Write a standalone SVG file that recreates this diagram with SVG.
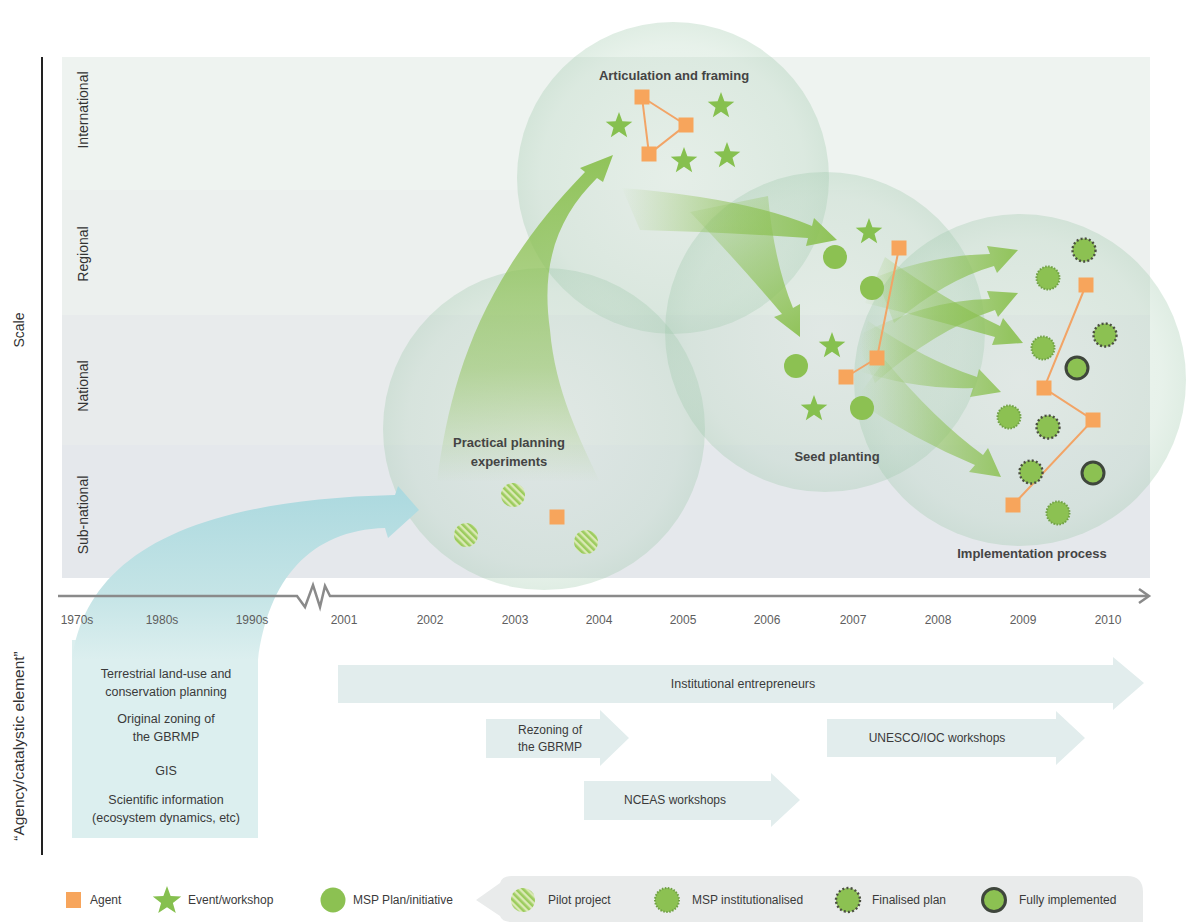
<svg xmlns="http://www.w3.org/2000/svg" width="1192" height="922" viewBox="0 0 1192 922">
<style>
.t{font-family:"Liberation Sans",Arial,sans-serif;fill:#3a3a3a}
.yr{font-family:"Liberation Sans",Arial,sans-serif;font-size:12px;fill:#5e5e5e;text-anchor:middle}
.row{font-family:"Liberation Sans",Arial,sans-serif;font-size:14px;fill:#333;text-anchor:middle}
.hd{font-family:"Liberation Sans",Arial,sans-serif;font-size:13px;font-weight:bold;fill:#444;text-anchor:middle}
.bx{font-family:"Liberation Sans",Arial,sans-serif;font-size:12.5px;fill:#3a3a3a;text-anchor:middle}
.lg{font-family:"Liberation Sans",Arial,sans-serif;font-size:12px;fill:#3a3a3a}
.stage{fill:url(#gStage)}
.sq{fill:#f7a55c}
.st{fill:#86c04f}
.msp{fill:#8cc152}
.pilot{fill:url(#hatch)}
.inst{fill:#8cc152;stroke:#6f9f45;stroke-width:2;stroke-dasharray:1.5 1.5}
.fin{fill:#8cc152;stroke:#4b4f42;stroke-width:2.4;stroke-dasharray:2 2.2}
.full{fill:#8cc152;stroke:#3f463c;stroke-width:3}
.ol{fill:none;stroke:#f2a466;stroke-width:2}
.bar{fill:#e2eded}
</style>
<defs>
<radialGradient id="gStage" cx="0.5" cy="0.5" r="0.5">
<stop offset="0" stop-color="#c2dcc8" stop-opacity="0.2"/>
<stop offset="0.85" stop-color="#aacfb5" stop-opacity="0.28"/>
<stop offset="1" stop-color="#9cc7a9" stop-opacity="0.32"/>
</radialGradient>
<linearGradient id="gBig" gradientUnits="userSpaceOnUse" x1="0" y1="482" x2="0" y2="155">
<stop offset="0" stop-color="#8cc152" stop-opacity="0"/>
<stop offset="0.35" stop-color="#8cc152" stop-opacity="0.5"/>
<stop offset="1" stop-color="#8cc152" stop-opacity="0.95"/>
</linearGradient>
<linearGradient id="gA1" gradientUnits="userSpaceOnUse" x1="620" y1="0" x2="835" y2="0">
<stop offset="0" stop-color="#8cc152" stop-opacity="0"/>
<stop offset="0.55" stop-color="#8cc152" stop-opacity="0.6"/>
<stop offset="1" stop-color="#8cc152" stop-opacity="0.95"/>
</linearGradient>
<linearGradient id="gA2" gradientUnits="userSpaceOnUse" x1="700" y1="195" x2="800" y2="337">
<stop offset="0" stop-color="#8cc152" stop-opacity="0.1"/>
<stop offset="0.5" stop-color="#8cc152" stop-opacity="0.55"/>
<stop offset="1" stop-color="#8cc152" stop-opacity="0.95"/>
</linearGradient>
<linearGradient id="gB" gradientUnits="userSpaceOnUse" x1="860" y1="0" x2="1010" y2="0">
<stop offset="0" stop-color="#8cc152" stop-opacity="0"/>
<stop offset="0.5" stop-color="#8cc152" stop-opacity="0.5"/>
<stop offset="1" stop-color="#8cc152" stop-opacity="0.9"/>
</linearGradient>
<linearGradient id="gBlue" gradientUnits="userSpaceOnUse" x1="0" y1="490" x2="0" y2="660">
<stop offset="0" stop-color="#acd9df"/>
<stop offset="0.6" stop-color="#c4e4e6"/>
<stop offset="1" stop-color="#dcefef"/>
</linearGradient>
<pattern id="hatch" patternUnits="userSpaceOnUse" width="5" height="5" patternTransform="rotate(-45)">
<rect width="5" height="5" fill="#dbe9b6"/>
<rect width="2.6" height="5" fill="#9ccc5e"/>
</pattern>
<path id="star" d="M0,-14 L3.4,-4.7 L13.3,-4.3 L5.5,1.8 L8.2,11.3 L0,5.8 L-8.2,11.3 L-5.5,1.8 L-13.3,-4.3 L-3.4,-4.7 Z"/>
</defs>

<rect width="1192" height="922" fill="#ffffff"/>

<g id="background">
<rect x="62" y="57" width="1088" height="133" fill="#eef3f0"/>
<rect x="62" y="190" width="1088" height="125" fill="#ecf0ee"/>
<rect x="62" y="315" width="1088" height="130" fill="#e8ebec"/>
<rect x="62" y="445" width="1088" height="133" fill="#e5e8ec"/>
<text class="row" transform="translate(88,110) rotate(-90)">International</text>
<text class="row" transform="translate(88,254) rotate(-90)">Regional</text>
<text class="row" transform="translate(88,386) rotate(-90)">National</text>
<text class="row" transform="translate(88,515) rotate(-90)">Sub-national</text>
</g>

<g id="axes">
<line x1="42" y1="57" x2="42" y2="855" stroke="#222" stroke-width="2"/>
<text class="row" transform="translate(24,330) rotate(-90)">Scale</text>
<text class="row" style="font-size:15.5px" transform="translate(24,746) rotate(-90)">“Agency/catalystic element”</text>
</g>

<g id="stage-articulation">
<circle class="stage" cx="673" cy="178" r="156"/>
</g>
<g id="stage-practical">
<circle class="stage" cx="544" cy="429" r="161"/>
</g>
<g id="stage-seed">
<circle class="stage" cx="825" cy="332" r="160"/>
</g>
<g id="stage-implementation">
<circle class="stage" cx="1020" cy="380" r="166"/>
</g>

<g id="catalysts">
<rect x="72" y="640" width="186" height="198" fill="#dcefef"/>
<path d="M72,660 C85,560 180,500 395,495 L398,486 L419,510 L388,538 L385,528 C310,530 268,580 258,660 Z" fill="url(#gBlue)"/>
<text class="bx" x="166" y="678">Terrestrial land-use and</text>
<text class="bx" x="166" y="696">conservation planning</text>
<text class="bx" x="166" y="723">Original zoning of</text>
<text class="bx" x="166" y="741">the GBRMP</text>
<text class="bx" x="166" y="775">GIS</text>
<text class="bx" x="166" y="804">Scientific information</text>
<text class="bx" x="166" y="822">(ecosystem dynamics, etc)</text>
</g>

<g id="timeline">
<path d="M58,596 L297,596 L305,607 L313,585 L320,607 L325,586 L330,596 L1148,596" fill="none" stroke="#8a8a8a" stroke-width="2.5"/>
<path d="M1139,589 L1149,596 L1139,603" fill="none" stroke="#8a8a8a" stroke-width="2.5"/>
<text class="yr" x="77" y="624">1970s</text>
<text class="yr" x="162" y="624">1980s</text>
<text class="yr" x="252" y="624">1990s</text>
<text class="yr" x="344" y="624">2001</text>
<text class="yr" x="430" y="624">2002</text>
<text class="yr" x="515" y="624">2003</text>
<text class="yr" x="599" y="624">2004</text>
<text class="yr" x="683" y="624">2005</text>
<text class="yr" x="767" y="624">2006</text>
<text class="yr" x="853" y="624">2007</text>
<text class="yr" x="938" y="624">2008</text>
<text class="yr" x="1023" y="624">2009</text>
<text class="yr" x="1108" y="624">2010</text>
</g>

<g id="connectors">
<path d="M437,482 C450,380 480,280 585,172 L580,168 L613,155 L603,182 L597,178 C560,215 540,260 550,330 C555,390 580,440 600,482 Z" fill="url(#gBig)"/>
<path d="M622,188 Q745,198 812,226 L814,218 L837,240 L806,246 L808,238 Q720,232 640,230 Z" fill="url(#gA1)"/>
<path d="M768,196 Q774,262 793,308 L800,304 L800,337 L774,317 L782,314 Q738,262 690,212 Z" fill="url(#gA2)"/>
<path d="M876,277 Q933,255 990,254 L987,246 L1018,250 L997,273 L994,266 Q945,280 894,323 Z" fill="url(#gB)"/>
<path d="M855,337 Q925,300 990,299 L987,291 L1018,293 L998,317 L995,310 Q935,330 875,383 Z" fill="url(#gB)"/>
<path d="M885,257 Q945,300 1000,326 L1003,318 L1023,343 L992,345 L995,337 Q935,320 865,303 Z" fill="url(#gB)"/>
<path d="M868,321 Q925,360 977,377 L979,369 L1001,392 L970,397 L973,388 Q915,390 852,369 Z" fill="url(#gB)"/>
<path d="M885,360 Q935,420 983,455 L988,448 L1001,477 L969,472 L975,465 Q915,440 855,400 Z" fill="url(#gB)"/>
<path class="ol" d="M642,97 L686,125 L649,154 Z"/>
<path class="ol" d="M899,248 L877,358 L846,377"/>
<path class="ol" d="M1086,285 L1044,388 L1093,420 L1013,505"/>
</g>

<g id="labels">
<text class="hd" x="674" y="80">Articulation and framing</text>
<text class="hd" x="509" y="447">Practical planning</text>
<text class="hd" x="509" y="466">experiments</text>
<text class="hd" x="837" y="461">Seed planting</text>
<text class="hd" x="1032" y="558">Implementation process</text>
</g>

<g id="nodes-articulation">
<g id="a-agent1"><rect class="sq" x="634.5" y="89.5" width="15" height="15"/></g>
<g id="a-agent2"><rect class="sq" x="678.5" y="117.5" width="15" height="15"/></g>
<g id="a-agent3"><rect class="sq" x="641.5" y="146.5" width="15" height="15"/></g>
<g id="a-event1"><use href="#star" class="st" x="619" y="126"/></g>
<g id="a-event2"><use href="#star" class="st" x="721" y="106"/></g>
<g id="a-event3"><use href="#star" class="st" x="684" y="161"/></g>
<g id="a-event4"><use href="#star" class="st" x="727" y="156"/></g>
</g>

<g id="nodes-practical">
<g id="p-pilot1"><circle class="pilot" cx="513" cy="495" r="12"/></g>
<g id="p-pilot2"><circle class="pilot" cx="466" cy="535" r="12"/></g>
<g id="p-pilot3"><circle class="pilot" cx="586" cy="542" r="12"/></g>
<g id="p-agent"><rect class="sq" x="549.5" y="509.5" width="15" height="15"/></g>
</g>

<g id="nodes-seed">
<g id="s-event1"><use href="#star" class="st" x="869" y="232"/></g>
<g id="s-plan1"><circle class="msp" cx="835" cy="257" r="12"/></g>
<g id="s-plan2"><circle class="msp" cx="872" cy="288" r="12"/></g>
<g id="s-agent1"><rect class="sq" x="891.5" y="240.5" width="15" height="15"/></g>
<g id="s-event2"><use href="#star" class="st" x="832" y="346"/></g>
<g id="s-plan3"><circle class="msp" cx="796" cy="366" r="12"/></g>
<g id="s-agent2"><rect class="sq" x="869.5" y="350.5" width="15" height="15"/></g>
<g id="s-agent3"><rect class="sq" x="838.5" y="369.5" width="15" height="15"/></g>
<g id="s-event3"><use href="#star" class="st" x="814" y="409"/></g>
<g id="s-plan4"><circle class="msp" cx="862" cy="408" r="12"/></g>
</g>

<g id="nodes-implementation">
<g id="i-fin1"><circle class="fin" cx="1084" cy="250" r="11.5"/></g>
<g id="i-inst1"><circle class="inst" cx="1048" cy="278" r="11.5"/></g>
<g id="i-agent1"><rect class="sq" x="1078.5" y="277.5" width="15" height="15"/></g>
<g id="i-fin2"><circle class="fin" cx="1105" cy="335" r="11.5"/></g>
<g id="i-inst2"><circle class="inst" cx="1043" cy="348" r="11.5"/></g>
<g id="i-full1"><circle class="full" cx="1077" cy="368" r="11"/></g>
<g id="i-agent2"><rect class="sq" x="1036.5" y="380.5" width="15" height="15"/></g>
<g id="i-agent3"><rect class="sq" x="1085.5" y="412.5" width="15" height="15"/></g>
<g id="i-inst3"><circle class="inst" cx="1009" cy="417" r="11.5"/></g>
<g id="i-fin3"><circle class="fin" cx="1048" cy="427" r="11.5"/></g>
<g id="i-fin4"><circle class="fin" cx="1031" cy="472" r="11.5"/></g>
<g id="i-full2"><circle class="full" cx="1093" cy="473" r="11"/></g>
<g id="i-agent4"><rect class="sq" x="1005.5" y="497.5" width="15" height="15"/></g>
<g id="i-inst4"><circle class="inst" cx="1058" cy="513" r="11.5"/></g>
</g>

<g id="agency-arrows">
<g id="entrepreneurs">
<path class="bar" d="M338,665 L1113,665 L1113,657 L1144,683 L1113,710 L1113,703 L338,703 Z"/>
<text class="t" x="743" y="688" font-size="12.5" text-anchor="middle">Institutional entrepreneurs</text>
</g>
<g id="rezoning">
<path class="bar" d="M486,719 L600,719 L600,710 L629,738 L600,766 L600,758 L486,758 Z"/>
<text class="t" x="550" y="734" font-size="12" text-anchor="middle">Rezoning of</text>
<text class="t" x="550" y="751" font-size="12" text-anchor="middle">the GBRMP</text>
</g>
<g id="unesco">
<path class="bar" d="M827,719 L1056,719 L1056,711 L1085,738 L1056,765 L1056,757 L827,757 Z"/>
<text class="t" x="937" y="742" font-size="12" text-anchor="middle">UNESCO/IOC workshops</text>
</g>
<g id="nceas">
<path class="bar" d="M584,781 L771,781 L771,773 L800,800 L771,827 L771,820 L584,820 Z"/>
<text class="t" x="675" y="804" font-size="12" text-anchor="middle">NCEAS workshops</text>
</g>
</g>

<g id="legend">
<path d="M476,900 L500,883 Q502,876 512,876 L1127,876 Q1143,876 1143,892 L1143,922 L512,922 Q502,922 500,916 Z" fill="#e9ebeb"/>
<rect class="sq" x="66" y="892" width="15" height="16"/>
<text class="lg" x="90" y="904">Agent</text>
<use href="#star" class="st" x="167" y="901" transform="translate(167,901) scale(1.07) translate(-167,-901)"/>
<text class="lg" x="188" y="904">Event/workshop</text>
<circle class="msp" cx="333" cy="900" r="12.5"/>
<text class="lg" x="353" y="904">MSP Plan/initiative</text>
<circle class="pilot" cx="523" cy="900" r="12"/>
<text class="lg" x="548" y="904">Pilot project</text>
<circle class="inst" cx="667" cy="900" r="12"/>
<text class="lg" x="692" y="904">MSP institutionalised</text>
<circle class="fin" cx="848" cy="900" r="12"/>
<text class="lg" x="872" y="904">Finalised plan</text>
<circle class="full" cx="994" cy="900" r="11.5"/>
<text class="lg" x="1019" y="904">Fully implemented</text>
</g>
</svg>
